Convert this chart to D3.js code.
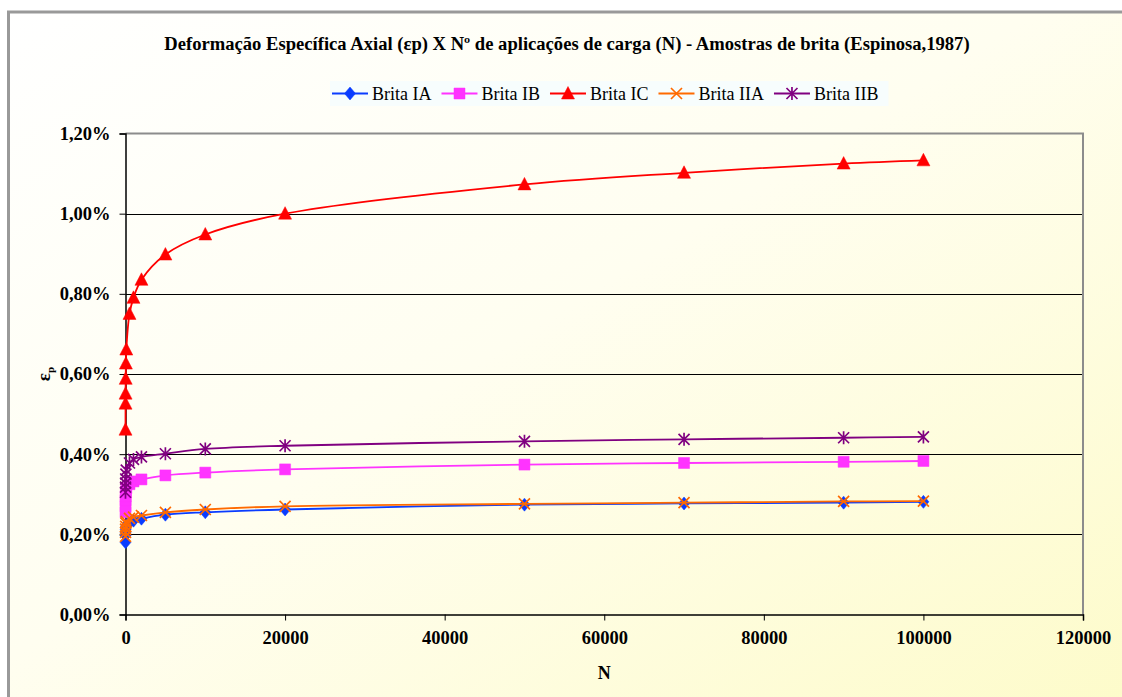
<!DOCTYPE html>
<html>
<head>
<meta charset="utf-8">
<script src="https://cdn.jsdelivr.net/npm/d3@7/dist/d3.min.js"></script>
<style>
  html, body { margin: 0; padding: 0; background: #ffffff; }
  svg { display: block; }
  text { font-family: "Liberation Serif", "Times New Roman", serif; fill: #000; }
</style>
</head>
<body>
<svg id="chart" width="1122" height="697"></svg>
<script>
// Load cycles N at which each specimen was read
const cycles = [1, 5, 10, 25, 50, 100, 500, 1000, 2000, 5000, 10000, 20000, 50000, 70000, 90000, 100000];

// Axial permanent strain εp (%) per specimen
const britaIA  = [0.180, 0.197, 0.205, 0.212, 0.218, 0.222, 0.230, 0.234, 0.239, 0.249, 0.255, 0.262, 0.274, 0.277, 0.279, 0.281];
const britaIB  = [0.255, 0.270, 0.285, 0.295, 0.305, 0.315, 0.325, 0.332, 0.337, 0.347, 0.354, 0.362, 0.374, 0.378, 0.381, 0.383];
const britaIC  = [0.461, 0.526, 0.551, 0.588, 0.626, 0.661, 0.750, 0.790, 0.835, 0.898, 0.948, 1.000, 1.073, 1.102, 1.125, 1.133];
const britaIIA = [0.195, 0.205, 0.213, 0.220, 0.228, 0.232, 0.240, 0.243, 0.247, 0.255, 0.262, 0.270, 0.276, 0.279, 0.282, 0.283];
const britaIIB = [0.305, 0.318, 0.328, 0.338, 0.350, 0.360, 0.378, 0.387, 0.393, 0.401, 0.413, 0.421, 0.432, 0.437, 0.441, 0.443];

const seriesNames = ["Brita IA", "Brita IB", "Brita IC", "Brita IIA", "Brita IIB"];
const seriesValues = [britaIA, britaIB, britaIC, britaIIA, britaIIB];
const seriesColors = ["#0a3cff", "#ff33ff", "#ff0000", "#ff6a00", "#800080"];
const seriesMarkers = ["diamond", "square", "triangle", "times", "star"];

const xTicks = [0, 20000, 40000, 60000, 80000, 100000, 120000];
const yTicks = [0, 0.2, 0.4, 0.6, 0.8, 1.0, 1.2];

const titleText = "Deformação Específica Axial (εp) X Nº de aplicações de carga (N) - Amostras de brita (Espinosa,1987)";

const svg = d3.select("#chart");
const W = 1122, H = 697;

// Chart-area background: white fading to pale yellow
const defs = svg.append("defs");
const grad = defs.append("linearGradient")
  .attr("id", "bg").attr("x1", "0").attr("y1", "0").attr("x2", "1").attr("y2", "1");
grad.append("stop").attr("offset", "0").attr("stop-color", "#ffffff");
grad.append("stop").attr("offset", "0.45").attr("stop-color", "#fffef0");
grad.append("stop").attr("offset", "1").attr("stop-color", "#fdfbc8");

svg.append("rect").attr("x", 0).attr("y", 0).attr("width", W).attr("height", H).attr("fill", "#ffffff");
svg.append("rect")
  .attr("x", 8.5).attr("y", 12).attr("width", W + 20).attr("height", H + 20)
  .attr("fill", "url(#bg)").attr("stroke", "#999999").attr("stroke-width", 3);

// Plot area
const plot = { left: 125.5, right: 1083, top: 133.5, bottom: 614.5 };
const x = d3.scaleLinear().domain([0, 120000]).range([plot.left, plot.right]);
const y = d3.scaleLinear().domain([0, 1.2]).range([plot.bottom, plot.top]);

// Horizontal gridlines
svg.append("g")
  .selectAll("line")
  .data(yTicks.filter(v => v > 0 && v < 1.2))
  .join("line")
  .attr("x1", plot.left).attr("x2", plot.right)
  .attr("y1", d => Math.round(y(d)) + 0.5).attr("y2", d => Math.round(y(d)) + 0.5)
  .attr("stroke", "#000").attr("stroke-width", 1);

// Plot-area frame (top and right edges)
svg.append("path")
  .attr("d", `M${plot.left},${plot.top}H${plot.right}V${plot.bottom}`)
  .attr("fill", "none").attr("stroke", "#8c8c8c").attr("stroke-width", 2);

// Axes
const fmtPct = v => v.toFixed(2).replace(".", ",") + "%";
const yAxis = d3.axisLeft(y).tickValues(yTicks).tickFormat(fmtPct).tickSize(6).tickPadding(9);
const xAxis = d3.axisBottom(x).tickValues(xTicks).tickFormat(d => String(d)).tickSize(6).tickPadding(10);

const gy = svg.append("g").attr("transform", `translate(${plot.left},0)`).call(yAxis);
const gx = svg.append("g").attr("transform", `translate(0,${plot.bottom})`).call(xAxis);
[gx, gy].forEach(g => {
  g.select(".domain").attr("stroke", "#000").attr("stroke-width", 1.5);
  g.selectAll(".tick line").attr("stroke", "#000").attr("stroke-width", 1);
  g.selectAll(".tick text")
    .attr("font-family", "'Liberation Serif', 'Times New Roman', serif")
    .attr("font-size", 18.5).attr("font-weight", "bold").attr("fill", "#000");
});

// Axis titles
svg.append("text")
  .attr("x", x(60000)).attr("y", 679)
  .attr("text-anchor", "middle").attr("font-size", 18).attr("font-weight", "bold")
  .text("N");

const yLab = svg.append("text")
  .attr("transform", `translate(50,${y(0.6)}) rotate(-90)`)
  .attr("text-anchor", "middle").attr("font-size", 19).attr("font-weight", "bold");
yLab.append("tspan").text("ε");
yLab.append("tspan").attr("font-size", 11).attr("dy", 4).text("p");

// Title
svg.append("text")
  .attr("x", 567).attr("y", 50)
  .attr("text-anchor", "middle").attr("font-size", 18.6).attr("font-weight", "bold")
  .text(titleText);

// Marker shapes
function markerPath(kind) {
  switch (kind) {
    case "diamond":  return "M0,-6.5L5.5,0L0,6.5L-5.5,0Z";
    case "square":   return "M-5.5,-5.5H5.5V5.5H-5.5Z";
    case "triangle": return "M0,-7L6.5,5.5L-6.5,5.5Z";
    case "times":    return "M-5.5,-5.5L5.5,5.5M5.5,-5.5L-5.5,5.5";
    case "star":     return "M-5.5,-5.5L5.5,5.5M5.5,-5.5L-5.5,5.5M0,-6.5V6.5";
  }
}
function drawMarker(g, kind, color) {
  const filled = kind === "diamond" || kind === "square" || kind === "triangle";
  return g.append("path")
    .attr("d", markerPath(kind))
    .attr("fill", filled ? color : "none")
    .attr("stroke", color)
    .attr("stroke-width", filled ? 0.5 : 1.7);
}

// Series lines and markers
const line = d3.line()
  .x(d => x(d[0]))
  .y(d => y(d[1]))
  .curve(d3.curveCatmullRom.alpha(0.5));

seriesValues.forEach((vals, i) => {
  const pts = cycles.map((n, k) => [n, vals[k]]);
  const g = svg.append("g");
  g.append("path")
    .datum(pts)
    .attr("d", line)
    .attr("fill", "none")
    .attr("stroke", seriesColors[i])
    .attr("stroke-width", 1.8);
  pts.forEach(p => {
    const m = g.append("g").attr("transform", `translate(${x(p[0])},${y(p[1])})`);
    drawMarker(m, seriesMarkers[i], seriesColors[i]);
  });
});

// Legend
const legend = svg.append("g");
const legBox = legend.append("rect")
  .attr("x", 330).attr("y", 81).attr("height", 25)
  .attr("fill", "#f7fdfd");
let cx = 332;
seriesNames.forEach((name, i) => {
  const item = legend.append("g").attr("transform", `translate(${cx},93.5)`);
  item.append("line").attr("x1", 0).attr("x2", 36).attr("y1", 0).attr("y2", 0)
    .attr("stroke", seriesColors[i]).attr("stroke-width", 1.8);
  const m = item.append("g").attr("transform", "translate(18,0)");
  drawMarker(m, seriesMarkers[i], seriesColors[i]);
  const t = item.append("text").attr("x", 40).attr("y", 6)
    .attr("font-size", 18).text(name);
  const w = t.node().getComputedTextLength();
  cx += 40 + w + 10;
});
legBox.attr("width", cx - 330);
</script>
</body>
</html>
